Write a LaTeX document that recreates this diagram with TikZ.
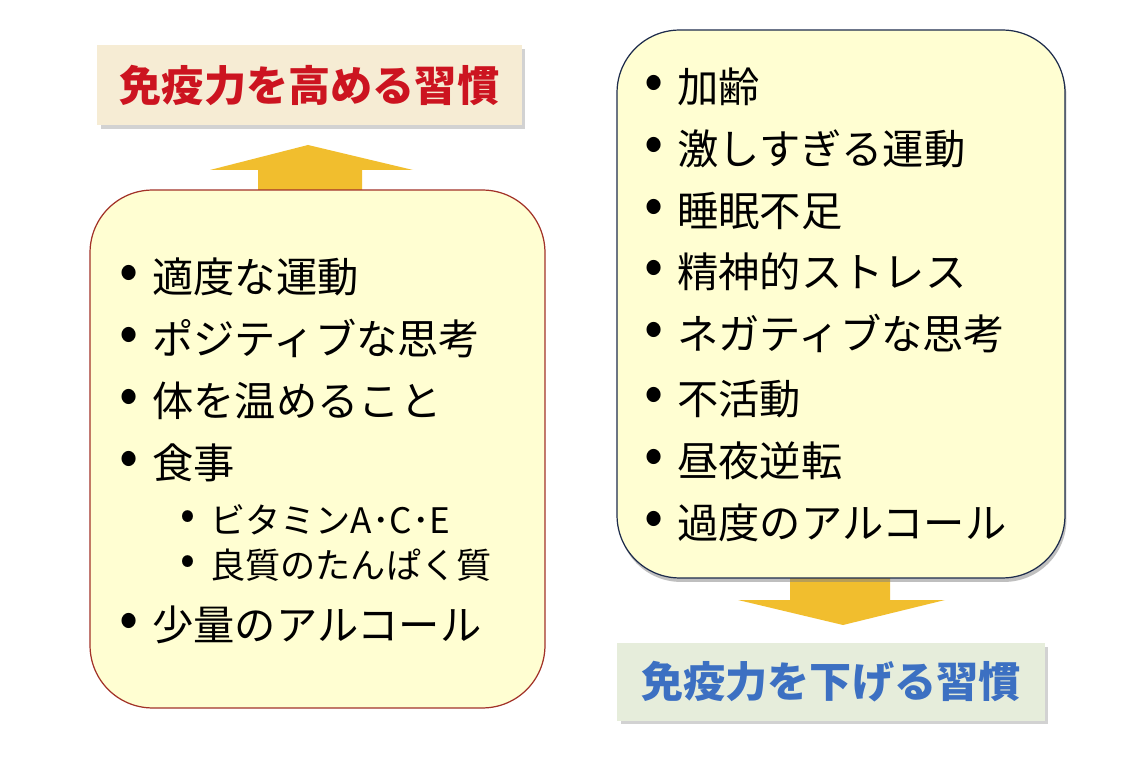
\documentclass[tikz,border=0pt]{standalone}
\usepackage{fontspec}
\setmainfont{Noto Sans CJK JP}
\usetikzlibrary{shadows}
\definecolor{titleup}{HTML}{F6ECD4}
\definecolor{titledown}{HTML}{E6EDDB}
\definecolor{redtext}{HTML}{CC1420}
\definecolor{bluetext}{HTML}{3C70C2}
\definecolor{boxfill}{HTML}{FFFED2}
\definecolor{redline}{HTML}{A23228}
\definecolor{navyline}{HTML}{1E2C4C}
\definecolor{arrowgold}{HTML}{F1BE2E}
\tikzset{
  title/.style={minimum width=8.5cm, minimum height=1.6cm,
    font=\fontsize{24}{28}\selectfont\bfseries,
    drop shadow={shadow xshift=0.7mm, shadow yshift=-0.7mm, opacity=0.35}},
  listbox/.style={fill=boxfill, rounded corners=1.25cm, line width=0.7pt},
  item/.style={anchor=west, inner sep=0pt, font=\fontsize{23.5}{28}\selectfont,
    label={[label distance=0.26cm, inner sep=0pt, font=\fontsize{32}{34}\selectfont]left:•}},
  subitem/.style={anchor=west, inner sep=0pt, font=\fontsize{20}{24}\selectfont,
    label={[label distance=0.28cm, inner sep=0pt, font=\fontsize{25}{28}\selectfont]left:•}},
  bigarrow/.style={fill=arrowgold}
}
\begin{document}
\begin{tikzpicture}[x=0.02cm,y=-0.02cm]
  \useasboundingbox[fill=white] (0,0) rectangle (1125,759);
  % arrows go under the boxes
  \fill[bigarrow] (258,196) -- (258,170) -- (210,170) -- (308,145)
    -- (413,170) -- (362,170) -- (362,196) -- cycle;
  \fill[bigarrow] (790,574) -- (790,600) -- (738,600) -- (843,625)
    -- (945,600) -- (890,600) -- (890,574) -- cycle;
  % titles
  \node[title, fill=titleup, text=redtext] (up) at (309.5,85.5) {免疫力を高める習慣};
  \node[title, fill=titledown, text=bluetext, minimum width=8.56cm, minimum height=1.56cm]
    (down) at (831,682) {免疫力を下げる習慣};
  % left box
  \node[listbox, draw=redline, minimum width=9.1cm, minimum height=10.36cm]
    (good) at (317.5,449) {};
  \node[item] (g1) at (152,277) {適度な運動};
  \node[item] (g2) at (152,339) {ポジティブな思考};
  \node[item] (g3) at (152,401) {体を温めること};
  \node[item] (g4) at (152,463) {食事};
  \node[subitem] (g5) at (210,520) {ビタミンA･C･E};
  \node[subitem] (g6) at (210,565) {良質のたんぱく質};
  \node[item] (g7) at (152,625) {少量のアルコール};
  % right box
  \node[listbox, draw=navyline, minimum width=8.96cm, minimum height=10.96cm,
    drop shadow={shadow xshift=0.3mm, shadow yshift=-0.8mm, opacity=0.5}]
    (bad) at (841,304) {};
  \node[item] (b1) at (677,87) {加齢};
  \node[item] (b2) at (677,149) {激しすぎる運動};
  \node[item] (b3) at (677,211) {睡眠不足};
  \node[item] (b4) at (677,272) {精神的ストレス};
  \node[item] (b5) at (677,334) {ネガティブな思考};
  \node[item] (b6) at (677,399) {不活動};
  \node[item] (b7) at (677,461) {昼夜逆転};
  \node[item] (b8) at (677,523) {過度のアルコール};
\end{tikzpicture}
\end{document}
